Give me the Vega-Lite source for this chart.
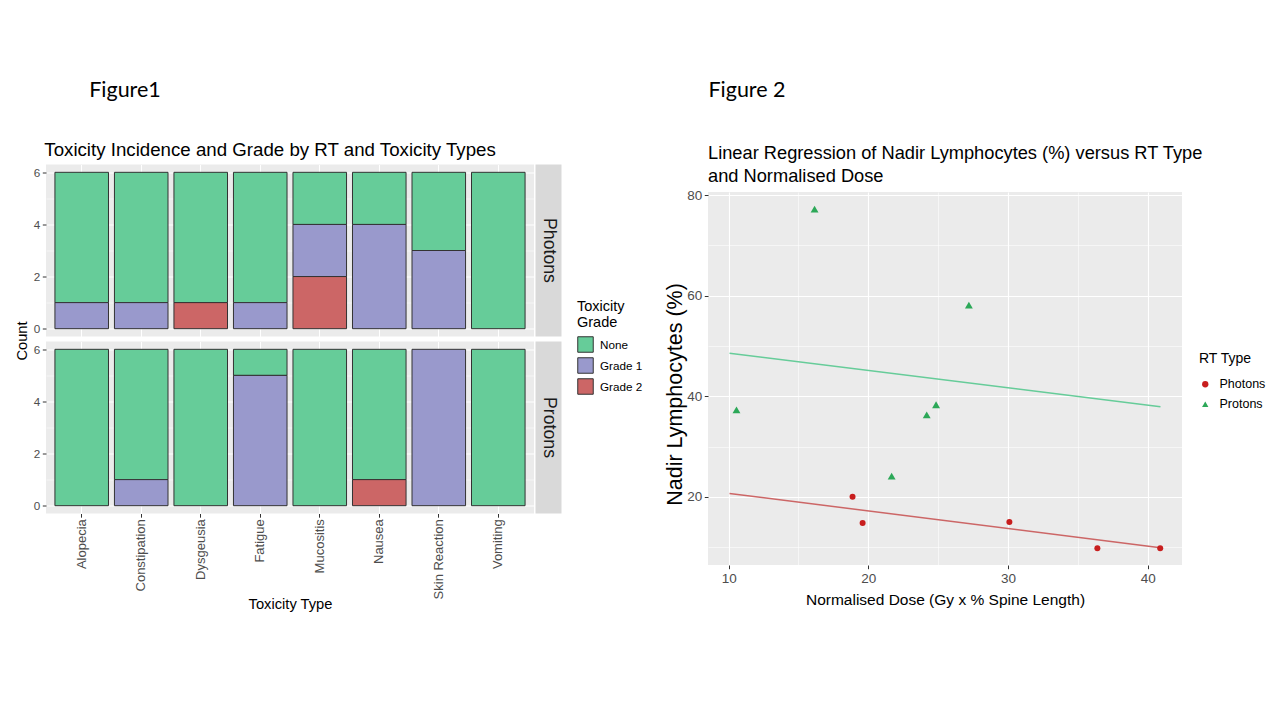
{
  "$schema": "https://vega.github.io/schema/vega-lite/v6.json",
  "background": "white",
  "padding": {"left": 14, "top": 76, "right": 0, "bottom": 0},
  "datasets": {
    "heads": [
      {"fig": 1, "label": "Figure1"},
      {"fig": 2, "label": "Figure 2"}
    ],
    "tox": [
      {"rt": "Photons", "type": "Alopecia", "grade": "None", "grade_level": 0, "count": 5},
      {"rt": "Photons", "type": "Alopecia", "grade": "Grade 1", "grade_level": 1, "count": 1},
      {"rt": "Photons", "type": "Constipation", "grade": "None", "grade_level": 0, "count": 5},
      {"rt": "Photons", "type": "Constipation", "grade": "Grade 1", "grade_level": 1, "count": 1},
      {"rt": "Photons", "type": "Dysgeusia", "grade": "None", "grade_level": 0, "count": 5},
      {"rt": "Photons", "type": "Dysgeusia", "grade": "Grade 2", "grade_level": 2, "count": 1},
      {"rt": "Photons", "type": "Fatigue", "grade": "None", "grade_level": 0, "count": 5},
      {"rt": "Photons", "type": "Fatigue", "grade": "Grade 1", "grade_level": 1, "count": 1},
      {"rt": "Photons", "type": "Mucositis", "grade": "None", "grade_level": 0, "count": 2},
      {"rt": "Photons", "type": "Mucositis", "grade": "Grade 1", "grade_level": 1, "count": 2},
      {"rt": "Photons", "type": "Mucositis", "grade": "Grade 2", "grade_level": 2, "count": 2},
      {"rt": "Photons", "type": "Nausea", "grade": "None", "grade_level": 0, "count": 2},
      {"rt": "Photons", "type": "Nausea", "grade": "Grade 1", "grade_level": 1, "count": 4},
      {"rt": "Photons", "type": "Skin Reaction", "grade": "None", "grade_level": 0, "count": 3},
      {"rt": "Photons", "type": "Skin Reaction", "grade": "Grade 1", "grade_level": 1, "count": 3},
      {"rt": "Photons", "type": "Vomiting", "grade": "None", "grade_level": 0, "count": 6},
      {"rt": "Protons", "type": "Alopecia", "grade": "None", "grade_level": 0, "count": 6},
      {"rt": "Protons", "type": "Constipation", "grade": "None", "grade_level": 0, "count": 5},
      {"rt": "Protons", "type": "Constipation", "grade": "Grade 1", "grade_level": 1, "count": 1},
      {"rt": "Protons", "type": "Dysgeusia", "grade": "None", "grade_level": 0, "count": 6},
      {"rt": "Protons", "type": "Fatigue", "grade": "None", "grade_level": 0, "count": 1},
      {"rt": "Protons", "type": "Fatigue", "grade": "Grade 1", "grade_level": 1, "count": 5},
      {"rt": "Protons", "type": "Mucositis", "grade": "None", "grade_level": 0, "count": 6},
      {"rt": "Protons", "type": "Nausea", "grade": "None", "grade_level": 0, "count": 5},
      {"rt": "Protons", "type": "Nausea", "grade": "Grade 2", "grade_level": 2, "count": 1},
      {"rt": "Protons", "type": "Skin Reaction", "grade": "Grade 1", "grade_level": 1, "count": 6},
      {"rt": "Protons", "type": "Vomiting", "grade": "None", "grade_level": 0, "count": 6}
    ],
    "strips": [{"rt": "Photons"}, {"rt": "Protons"}],
    "lymph": [
      {"rt": "Protons", "dose": 10.56, "nadir": 37.3},
      {"rt": "Protons", "dose": 16.15, "nadir": 77.2},
      {"rt": "Protons", "dose": 21.67, "nadir": 24.1},
      {"rt": "Protons", "dose": 24.18, "nadir": 36.3},
      {"rt": "Protons", "dose": 24.85, "nadir": 38.3},
      {"rt": "Protons", "dose": 27.2, "nadir": 58.1},
      {"rt": "Photons", "dose": 18.87, "nadir": 20.0},
      {"rt": "Photons", "dose": 19.59, "nadir": 14.8},
      {"rt": "Photons", "dose": 30.1, "nadir": 15.0},
      {"rt": "Photons", "dose": 36.4, "nadir": 9.8},
      {"rt": "Photons", "dose": 40.9, "nadir": 9.8}
    ],
    "fit": [
      {"rt": "Photons", "dose": 10.06, "nadir": 20.67, "dose_end": 40.92, "nadir_end": 9.9},
      {"rt": "Protons", "dose": 10.06, "nadir": 48.55, "dose_end": 40.92, "nadir_end": 37.9}
    ]
  },
  "hconcat": [
    {
      "spacing": 34.5,
      "vconcat": [
        {
          "width": 158, "height": 30,
          "data": {"name": "heads"},
          "transform": [{"filter": "datum.fig === 1"}],
          "view": {"fill": null, "stroke": null},
          "mark": {"type": "text", "font": "Lato", "fontSize": 21.5, "color": "#000000"},
          "encoding": {"text": {"field": "label", "type": "nominal"}}
        },
        {
          "title": {"text": "Toxicity Incidence and Grade by RT and Toxicity Types", "fontSize": 18.7, "fontWeight": "normal", "color": "#000000", "anchor": "start", "dx": 30, "offset": 5},
          "columns": 2,
          "spacing": {"row": 5, "column": 1.5},
          "bounds": "flush",
          "resolve": {"scale": {"x": "independent", "y": "independent", "color": "independent"}},
          "concat": [
            {
              "width": 488, "height": 172,
              "data": {"name": "tox"},
              "transform": [{"filter": "datum.rt === 'Photons'"}],
              "mark": {"type": "bar", "stroke": "#333333", "strokeWidth": 1},
              "encoding": {
                "x": {"field": "type", "type": "nominal",
                  "scale": {"paddingInner": 0.1, "paddingOuter": 0.15},
                  "axis": {"labels": false, "ticks": false, "title": null, "grid": true, "bandPosition": 0.5, "gridWidth": 1.1}},
                "y": {"field": "count", "type": "quantitative", "stack": "zero",
                  "scale": {"domain": [-0.3, 6.3], "nice": false, "zero": false},
                  "axis": {"values": [0, 1, 2, 3, 4, 5, 6], "title": "Count", "titleY": 176,
                    "labelExpr": "datum.value % 2 == 0 ? datum.label : ''",
                    "gridWidth": {"condition": {"test": "datum.value % 2 != 0", "value": 0.55}, "value": 1.1},
                    "tickOpacity": {"condition": {"test": "datum.value % 2 != 0", "value": 0}, "value": 1}}},
                "color": {"field": "grade", "type": "nominal",
                  "scale": {"domain": ["None", "Grade 1", "Grade 2"], "range": ["#66CC99", "#9999CC", "#CC6666"]},
                  "legend": {"title": ["Toxicity", "Grade"], "orient": "none", "legendX": 531, "legendY": 135}},
                "order": {"field": "grade_level", "sort": "descending"}
              }
            },
            {
              "width": 26, "height": 172,
              "data": {"name": "strips"},
              "transform": [{"filter": "datum.rt === 'Photons'"}],
              "view": {"fill": "#D9D9D9", "stroke": null},
              "mark": {"type": "text", "angle": 90, "fontSize": 17.7, "color": "#1A1A1A"},
              "encoding": {"text": {"field": "rt", "type": "nominal"}}
            },
            {
              "width": 488, "height": 172,
              "data": {"name": "tox"},
              "transform": [{"filter": "datum.rt === 'Protons'"}],
              "mark": {"type": "bar", "stroke": "#333333", "strokeWidth": 1},
              "encoding": {
                "x": {"field": "type", "type": "nominal",
                  "scale": {"paddingInner": 0.1, "paddingOuter": 0.15},
                  "axis": {"title": "Toxicity Type", "labelAngle": 270, "labelFontSize": 13, "labelPadding": 1.5, "grid": true, "bandPosition": 0.5, "gridWidth": 1.1, "titlePadding": -2}},
                "y": {"field": "count", "type": "quantitative", "stack": "zero",
                  "scale": {"domain": [-0.3, 6.3], "nice": false, "zero": false},
                  "axis": {"values": [0, 1, 2, 3, 4, 5, 6], "title": null,
                    "labelExpr": "datum.value % 2 == 0 ? datum.label : ''",
                    "gridWidth": {"condition": {"test": "datum.value % 2 != 0", "value": 0.55}, "value": 1.1},
                    "tickOpacity": {"condition": {"test": "datum.value % 2 != 0", "value": 0}, "value": 1}}},
                "color": {"field": "grade", "type": "nominal",
                  "scale": {"domain": ["None", "Grade 1", "Grade 2"], "range": ["#66CC99", "#9999CC", "#CC6666"]},
                  "legend": null},
                "order": {"field": "grade_level", "sort": "descending"}
              }
            },
            {
              "width": 26, "height": 172,
              "data": {"name": "strips"},
              "transform": [{"filter": "datum.rt === 'Protons'"}],
              "view": {"fill": "#D9D9D9", "stroke": null},
              "mark": {"type": "text", "angle": 90, "fontSize": 17.7, "color": "#1A1A1A"},
              "encoding": {"text": {"field": "rt", "type": "nominal"}}
            }
          ]
        }
      ]
    },
    {
      "spacing": 37,
      "resolve": {"scale": {"x": "independent", "y": "independent", "color": "independent", "shape": "independent"}},
      "vconcat": [
        {
          "width": 78, "height": 30,
          "data": {"name": "heads"},
          "transform": [{"filter": "datum.fig === 2"}],
          "view": {"fill": null, "stroke": null},
          "mark": {"type": "text", "font": "Lato", "fontSize": 21.5, "color": "#000000"},
          "encoding": {"text": {"field": "label", "type": "nominal"}}
        },
        {
          "width": 474, "height": 373,
          "title": {"text": ["Linear Regression of Nadir Lymphocytes (%) versus RT Type", "and Normalised Dose"], "fontSize": 18.25, "lineHeight": 23, "fontWeight": "normal", "color": "#000000", "anchor": "start", "frame": "group", "offset": 2},
          "encoding": {
            "x": {"field": "dose", "type": "quantitative",
              "scale": {"domain": [8.52, 42.46], "nice": false, "zero": false},
              "axis": {"values": [10, 15, 20, 25, 30, 35, 40], "title": "Normalised Dose (Gy x % Spine Length)",
                "labelExpr": "datum.value % 10 == 0 ? datum.label : ''",
                "labelFontSize": 13.5, "titleFontSize": 15.5, "titlePadding": 8,
                "gridWidth": {"condition": {"test": "datum.value % 10 != 0", "value": 0.55}, "value": 1.1},
                "tickOpacity": {"condition": {"test": "datum.value % 10 != 0", "value": 0}, "value": 1}}},
            "y": {"field": "nadir", "type": "quantitative",
              "scale": {"domain": [6.45, 80.6], "nice": false, "zero": false},
              "axis": {"values": [10, 20, 30, 40, 50, 60, 70, 80], "title": "Nadir Lymphocytes (%)",
                "labelExpr": "datum.value % 20 == 0 ? datum.label : ''",
                "labelFontSize": 13.5, "titleFontSize": 21.5, "titleX": -33, "titleY": 202, "titleBaseline": "middle",
                "gridWidth": {"condition": {"test": "datum.value % 20 != 0", "value": 0.55}, "value": 1.1},
                "tickOpacity": {"condition": {"test": "datum.value % 20 != 0", "value": 0}, "value": 1}}}
          },
          "layer": [
            {
              "data": {"name": "fit"},
              "transform": [{"filter": "datum.rt === 'Photons'"}],
              "mark": {"type": "rule", "strokeWidth": 1.5, "color": "#CC6666"},
              "encoding": {
                "x2": {"field": "dose_end"},
                "y2": {"field": "nadir_end"}
              }
            },
            {
              "data": {"name": "fit"},
              "transform": [{"filter": "datum.rt === 'Protons'"}],
              "mark": {"type": "rule", "strokeWidth": 1.5, "color": "#66CC99"},
              "encoding": {
                "x2": {"field": "dose_end"},
                "y2": {"field": "nadir_end"}
              }
            },
            {
              "data": {"name": "lymph"},
              "mark": {"type": "point", "filled": true, "opacity": 1},
              "encoding": {
                "size": {"condition": {"test": "datum.rt === 'Protons'", "value": 62}, "value": 36},
                "color": {"field": "rt", "type": "nominal",
                  "scale": {"domain": ["Photons", "Protons"], "range": ["#C81E1E", "#2CA858"]},
                  "legend": {"title": "RT Type", "orient": "none", "legendX": 491, "legendY": 160,
                    "titleFontSize": 14, "labelFontSize": 12.5, "symbolSize": 40, "symbolOffset": 0,
                    "symbolStrokeWidth": 0, "rowPadding": 7, "labelOffset": 8, "titlePadding": 12}},
                "shape": {"field": "rt", "type": "nominal",
                  "scale": {"domain": ["Photons", "Protons"], "range": ["circle", "triangle-up"]},
                  "legend": {"title": "RT Type", "orient": "none", "legendX": 491, "legendY": 160,
                    "titleFontSize": 14, "labelFontSize": 12.5, "symbolSize": 40, "symbolOffset": 0,
                    "symbolStrokeWidth": 0, "rowPadding": 7, "labelOffset": 8, "titlePadding": 12}}
              }
            }
          ]
        }
      ]
    }
  ],
  "spacing": 21,
  "resolve": {"scale": {"x": "independent", "y": "independent", "color": "independent", "shape": "independent"}},
  "config": {
    "font": "Liberation Sans",
    "view": {"fill": "#EBEBEB", "stroke": null},
    "axis": {
      "domain": false,
      "gridColor": "#FFFFFF",
      "tickColor": "#333333",
      "tickSize": 3.7,
      "tickWidth": 1,
      "labelColor": "#4D4D4D",
      "labelFontSize": 11.7,
      "labelPadding": 2.5,
      "titleColor": "#000000",
      "titleFontWeight": "normal",
      "titleFontSize": 14.7,
      "titlePadding": 4
    },
    "legend": {
      "titleColor": "#000000",
      "titleFontWeight": "normal",
      "titleFontSize": 14.5,
      "titleLineHeight": 16,
      "titlePadding": 6,
      "labelColor": "#000000",
      "labelFontSize": 11.7,
      "labelOffset": 6,
      "symbolType": "square",
      "symbolSize": 240,
      "symbolStrokeColor": "#333333",
      "symbolStrokeWidth": 1,
      "rowPadding": 0,
      "padding": 0
    }
  }
}
